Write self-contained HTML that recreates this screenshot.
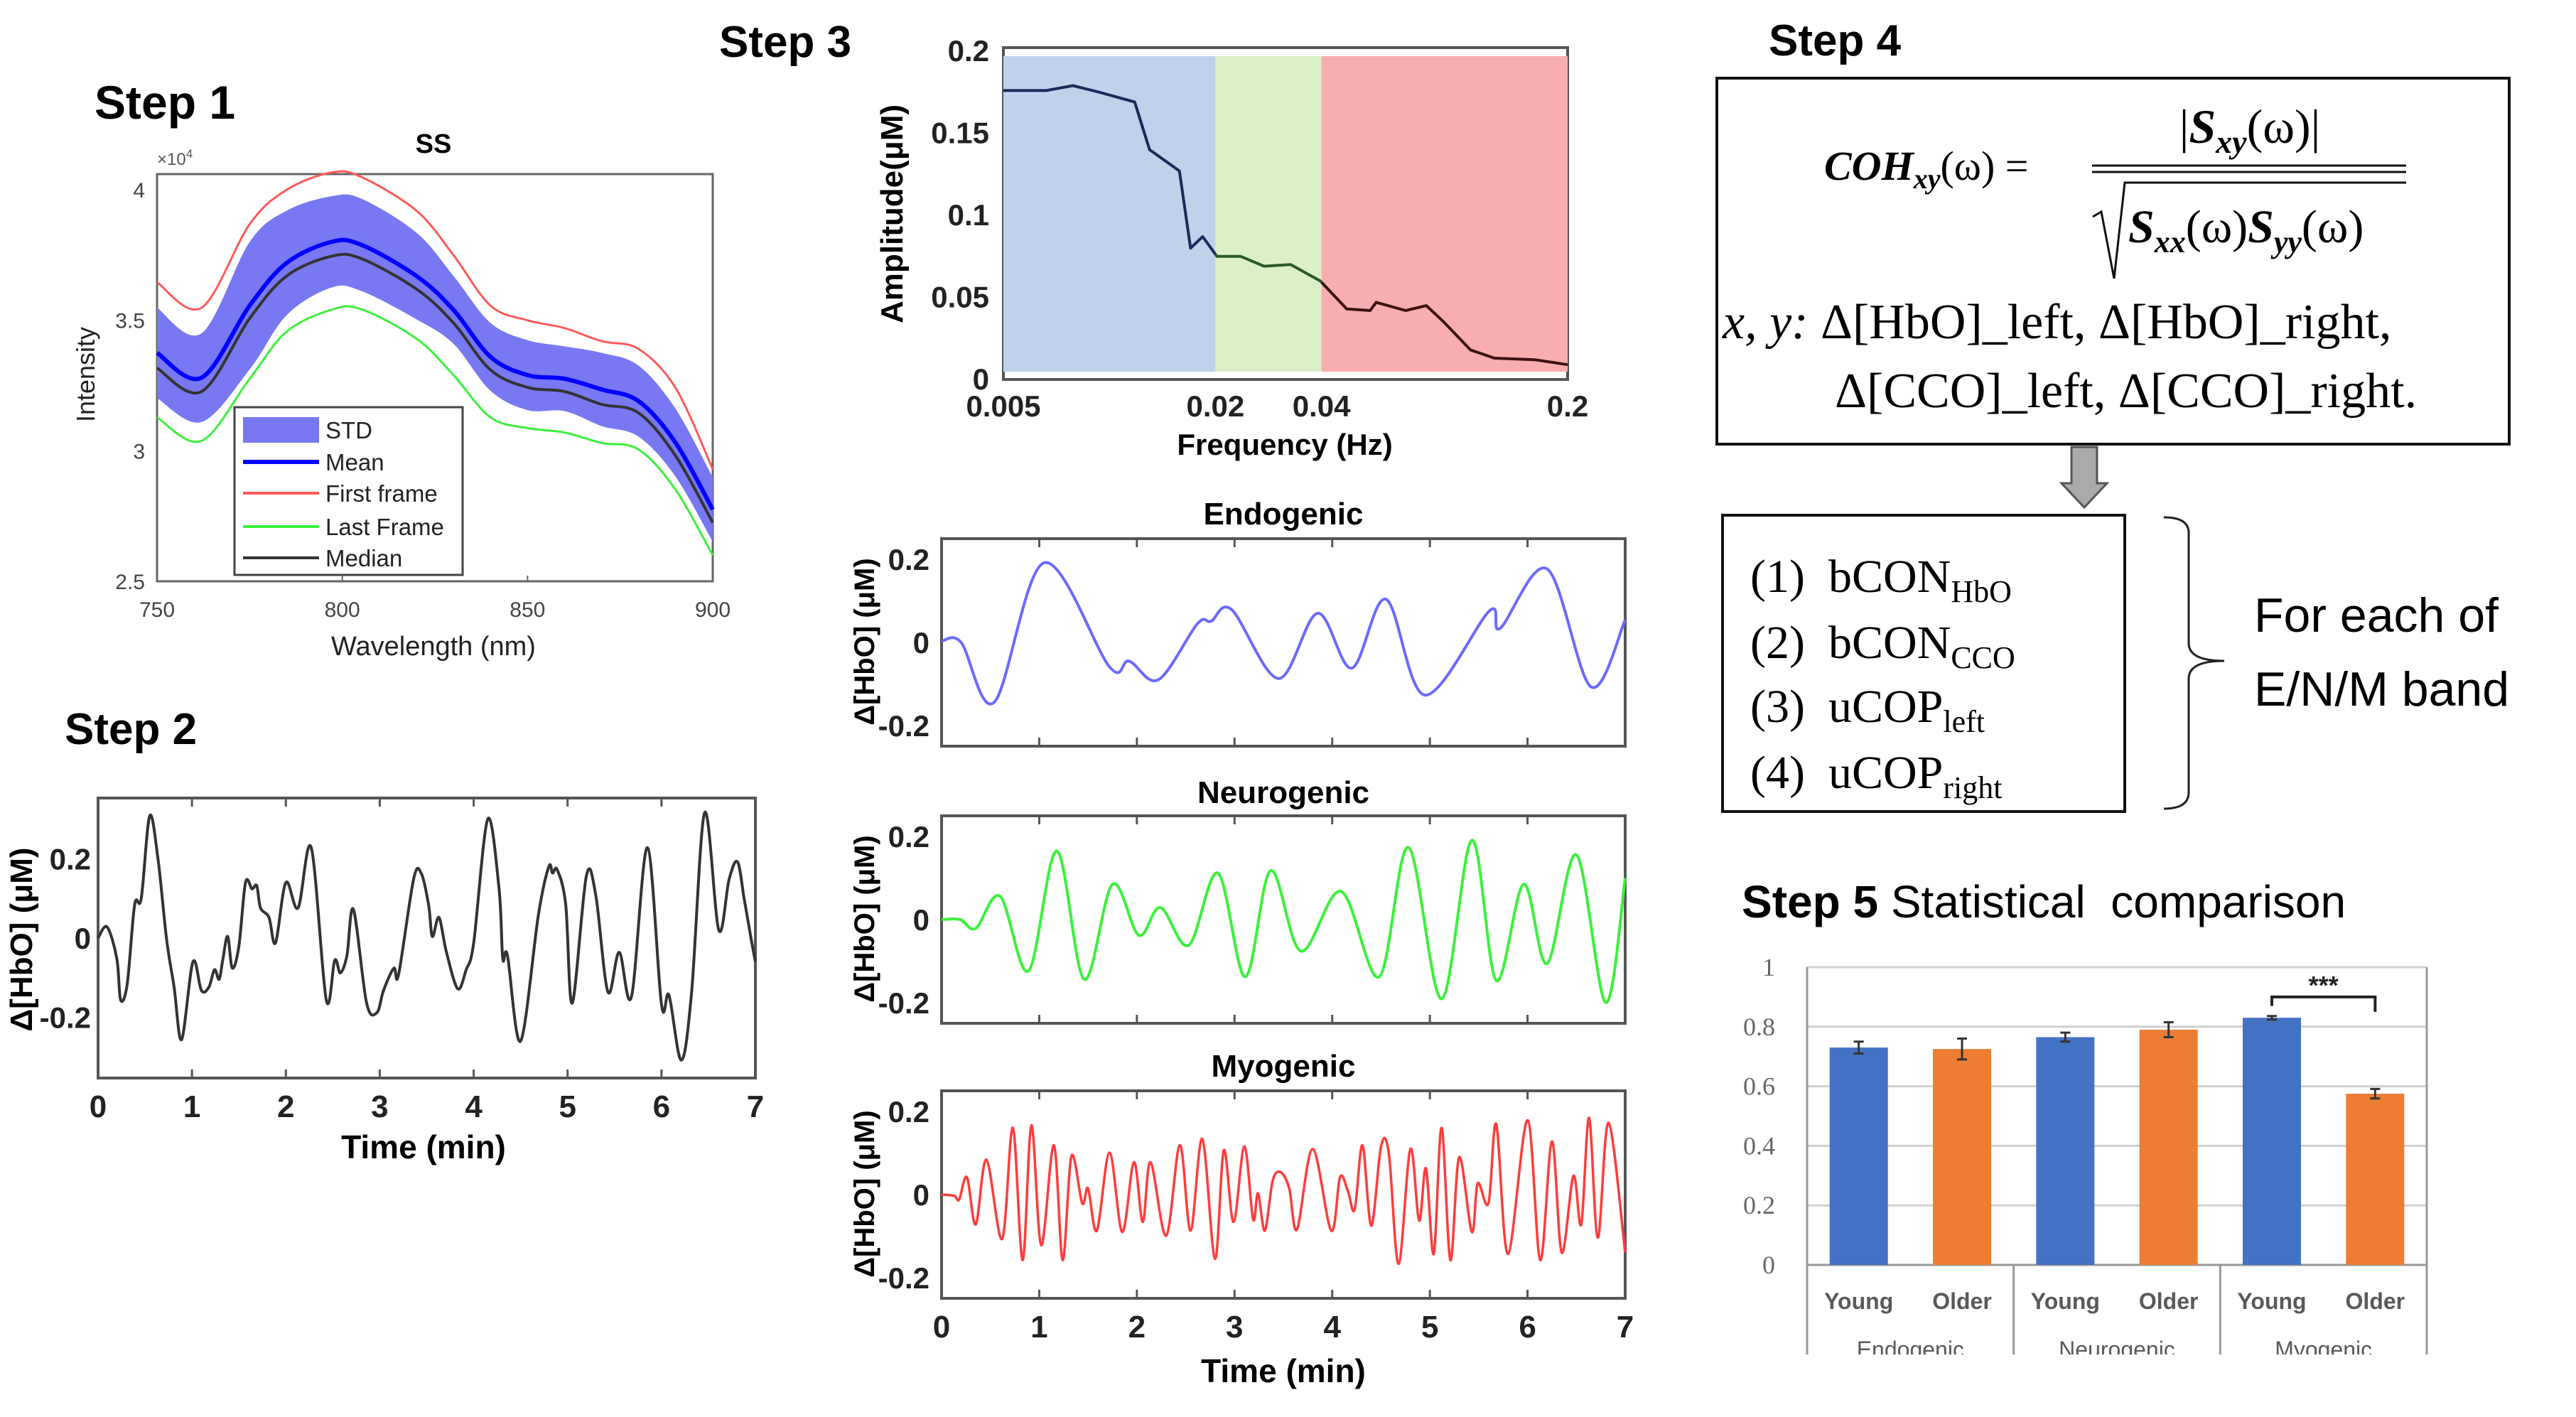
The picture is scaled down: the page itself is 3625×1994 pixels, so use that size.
<!DOCTYPE html>
<html><head><meta charset="utf-8"><style>
html,body{margin:0;padding:0;background:#fff;width:3625px;height:1994px;overflow:hidden}
svg{display:block}
.mb{font-family:"Liberation Sans Narrow","Liberation Sans",sans-serif;font-weight:bold}
.sr{font-family:"Liberation Serif",serif}
</style></head><body>
<svg id="root" width="3625" height="1994" viewBox="0 0 3625 1994" xmlns="http://www.w3.org/2000/svg">
<rect x="0" y="0" width="3625" height="1994" fill="#fff"/>
<text x="133" y="167" font-family="Liberation Sans" font-weight="bold" font-size="66">Step 1</text>
<text x="91" y="1047" font-family="Liberation Sans" font-weight="bold" font-size="62">Step 2</text>
<text x="1012" y="80" font-family="Liberation Sans" font-weight="bold" font-size="62">Step 3</text>
<text x="2489" y="78" font-family="Liberation Sans" font-weight="bold" font-size="62">Step 4</text>
<text x="2451" y="1291" font-size="64" font-family="Liberation Sans"><tspan font-weight="bold">Step 5</tspan> Statistical&#160; comparison</text>

<text x="610" y="215" text-anchor="middle" font-family="Liberation Sans" font-weight="bold" font-size="38">SS</text>
<text x="221" y="232" font-family="Liberation Sans" font-size="24" fill="#555">×10<tspan font-size="17" dy="-10">4</tspan></text>
<text x="610" y="922" text-anchor="middle" font-family="Liberation Sans" font-size="38" fill="#222">Wavelength (nm)</text>
<text transform="translate(133,527) rotate(-90)" text-anchor="middle" font-family="Liberation Sans" font-size="36" fill="#222">Intensity</text>

<text x="596" y="1630" text-anchor="middle" class="mb" font-size="46">Time (min)</text>
<text transform="translate(45,1322) rotate(-90)" text-anchor="middle" class="mb" font-size="44">Δ[HbO] (μM)</text>

<text x="1808" y="640" text-anchor="middle" font-family="Liberation Sans" font-weight="bold" font-size="42">Frequency (Hz)</text>
<text transform="translate(1270,301) rotate(-90)" text-anchor="middle" class="mb" font-size="44">Amplitude(μM)</text>
<text x="1806" y="738" text-anchor="middle" class="mb" font-size="44">Endogenic</text>
<text x="1806" y="1130" text-anchor="middle" class="mb" font-size="44">Neurogenic</text>
<text x="1806" y="1515" text-anchor="middle" class="mb" font-size="44">Myogenic</text>
<text transform="translate(1230,903) rotate(-90)" text-anchor="middle" class="mb" font-size="40">Δ[HbO] (μM)</text>
<text transform="translate(1230,1293) rotate(-90)" text-anchor="middle" class="mb" font-size="40">Δ[HbO] (μM)</text>
<text transform="translate(1230,1680) rotate(-90)" text-anchor="middle" class="mb" font-size="40">Δ[HbO] (μM)</text>
<text x="1806" y="1945" text-anchor="middle" class="mb" font-size="46">Time (min)</text>

<rect x="2416" y="110" width="1115" height="515" fill="none" stroke="#111" stroke-width="4"/>
<text x="2567" y="253" class="sr" font-size="58" font-weight="bold" font-style="italic">COH<tspan font-size="40" dy="12">xy</tspan><tspan dy="-12" font-weight="normal" font-style="normal">(ω) =</tspan></text>
<text x="3166" y="201" text-anchor="middle" class="sr" font-size="68"><tspan font-weight="normal">|</tspan><tspan font-weight="bold" font-style="italic">S</tspan><tspan font-weight="bold" font-style="italic" font-size="46" dy="14">xy</tspan><tspan dy="-14">(ω)|</tspan></text>
<line x1="2944" y1="233" x2="3386" y2="233" stroke="#111" stroke-width="3"/>
<line x1="2944" y1="242" x2="3386" y2="242" stroke="#111" stroke-width="3"/>
<polyline points="2945,305 2957,298 2975,392 2990,257 3386,257" fill="none" stroke="#111" stroke-width="3"/>
<text x="2995" y="341" class="sr" font-size="66"><tspan font-weight="bold" font-style="italic">S</tspan><tspan font-weight="bold" font-style="italic" font-size="44" dy="14">xx</tspan><tspan dy="-14">(ω)</tspan><tspan font-weight="bold" font-style="italic">S</tspan><tspan font-weight="bold" font-style="italic" font-size="44" dy="14">yy</tspan><tspan dy="-14">(ω)</tspan></text>
<text x="2424" y="476" class="sr" font-size="70"><tspan font-style="italic">x, y:</tspan> Δ[HbO]_left, Δ[HbO]_right,</text>
<text x="2582" y="573" class="sr" font-size="70">Δ[CCO]_left, Δ[CCO]_right.</text>
<polygon points="2915,629 2951,629 2951,680 2965,680 2933,714 2901,680 2915,680" fill="#aaa" stroke="#555" stroke-width="3"/>
<rect x="2424" y="725" width="566" height="417" fill="none" stroke="#111" stroke-width="4"/>
<text x="2463" y="833" class="sr" font-size="66">(1)&#160; bCON<tspan font-size="44" dy="14">HbO</tspan></text>
<text x="2463" y="926" class="sr" font-size="66">(2)&#160; bCON<tspan font-size="44" dy="14">CCO</tspan></text>
<text x="2463" y="1016" class="sr" font-size="66">(3)&#160; uCOP<tspan font-size="44" dy="14">left</tspan></text>
<text x="2463" y="1109" class="sr" font-size="66">(4)&#160; uCOP<tspan font-size="44" dy="14">right</tspan></text>
<path d="M3045,728 Q3080,728 3080,750 L3080,905 Q3080,930 3130,930 Q3080,930 3080,955 L3080,1115 Q3080,1138 3045,1138" fill="none" stroke="#222" stroke-width="3"/>
<text x="3172" y="889" font-family="Liberation Sans" font-size="68">For each of</text>
<text x="3172" y="993" font-family="Liberation Sans" font-size="68">E/N/M band</text>

<g id="charts"></g>
</svg>
<script>
const wl = [750,762,775,785,797,805,820,830,840,850,860,870,880,890,900];
const firstFrame = [3.646,3.548,3.868,4.0,4.066,4.05,3.92,3.75,3.556,3.50,3.47,3.42,3.39,3.24,2.93];
const meanSpec = [3.375,3.28,3.556,3.72,3.80,3.79,3.67,3.54,3.36,3.29,3.276,3.235,3.19,3.03,2.775];
const medianSpec = [3.317,3.227,3.507,3.67,3.745,3.737,3.62,3.49,3.31,3.243,3.227,3.178,3.145,2.98,2.725];
const lastFrame = [3.128,3.038,3.276,3.457,3.54,3.543,3.43,3.29,3.128,3.087,3.07,3.03,3.005,2.85,2.60];
const stdUpper = [3.548,3.45,3.80,3.92,3.975,3.967,3.836,3.67,3.49,3.424,3.40,3.375,3.326,3.16,2.898];
const step1XTicks = [750,800,850,900];
const step1YTicks = [2.5,3,3.5,4];
const legendLabels = ['STD','Mean','First frame','Last Frame','Median'];
const rawT = [0,.096,.2,.24,.31,.39,.46,.55,.64,.73,.81,.89,1.01,1.1,1.18,1.24,1.29,1.33,1.38,1.43,1.5,1.57,1.64,1.69,1.73,1.82,1.89,2.0,2.13,2.27,2.43,2.52,2.58,2.65,2.72,2.86,2.97,3.04,3.15,3.2,3.36,3.44,3.52,3.56,3.63,3.71,3.83,3.92,4.0,4.15,4.27,4.31,4.36,4.5,4.69,4.8,4.84,4.89,4.98,5.05,5.2,5.3,5.43,5.55,5.68,5.85,6.0,6.08,6.21,6.32,6.46,6.61,6.72,6.81,6.88,6.95,7.0];
const rawV = [0,.028,-.052,-.156,-.116,.084,.1,.308,.196,-.004,-.124,-.256,-.06,-.132,-.124,-.08,-.104,-.052,.004,-.076,-.02,.14,.124,.132,.076,.052,-.012,.14,.076,.228,-.156,-.056,-.088,-.044,.072,-.164,-.188,-.132,-.076,-.092,.148,.164,.084,.004,.052,-.036,-.128,-.08,-.012,.3,.124,-.052,-.044,-.26,.06,.18,.164,.172,.084,-.164,.156,.108,-.136,-.036,-.148,.228,-.168,-.144,-.308,-.14,.316,.02,.148,.192,.1,.004,-.06];
const timeTicks = [0,1,2,3,4,5,6,7];
const hboTicks = [-0.2,0,0.2];
const freq = [0.005,0.00662,0.00788,0.00937,0.0118,0.0130,0.0158,0.0170,0.0184,0.0202,0.0236,0.0275,0.0327,0.0397,0.0472,0.0550,0.0572,0.0693,0.0794,0.089,0.106,0.124,0.162,0.2];
const amp = [0.176,0.176,0.179,0.175,0.169,0.140,0.127,0.080,0.087,0.075,0.075,0.069,0.070,0.060,0.043,0.042,0.047,0.042,0.045,0.035,0.018,0.013,0.012,0.009];
const freqTicks = [0.005,0.02,0.04,0.2];
const freqTickLabels = ['0.005','0.02','0.04','0.2'];
const ampTicks = [0,0.05,0.1,0.15,0.2];
const ampTickLabels = ['0','0.05','0.1','0.15','0.2'];
const bandEdges = [0.005,0.02,0.04,0.2];
const endoT = [0,.2,.54,1.05,1.72,1.92,2.22,2.62,2.76,2.97,3.45,3.85,4.2,4.55,4.95,5.61,5.72,6.2,6.65,7.0];
const endoV = [.003,0,-.144,.192,-.059,-.045,-.09,.045,.051,.079,-.087,.07,-.062,.104,-.127,.076,.034,.177,-.107,.054];
const neuroT = [0,.19,.35,.6,.89,1.18,1.46,1.75,2.02,2.24,2.53,2.83,3.11,3.37,3.68,4.09,4.48,4.78,5.12,5.43,5.68,5.96,6.2,6.5,6.8,7.0];
const neuroV = [0,0,-.021,.056,-.124,.165,-.144,.085,-.038,.029,-.062,.112,-.138,.118,-.076,.068,-.138,.174,-.191,.191,-.147,.085,-.106,.156,-.2,.1];
const myoT = [0,.13,.18,.26,.35,.46,.62,.73,.83,.92,1.02,1.15,1.24,1.33,1.44,1.5,1.59,1.72,1.85,1.97,2.06,2.14,2.3,2.44,2.55,2.67,2.8,2.89,2.99,3.1,3.19,3.24,3.31,3.39,3.47,3.56,3.64,3.8,3.99,4.08,4.16,4.23,4.31,4.4,4.5,4.58,4.68,4.8,4.89,4.96,5.04,5.12,5.21,5.3,5.43,5.49,5.6,5.68,5.8,6.0,6.13,6.25,6.35,6.47,6.55,6.63,6.72,6.83,7.0];
const myoV = [0,-.003,-.012,.042,-.072,.084,-.107,.161,-.158,.167,-.122,.119,-.158,.093,-.021,.015,-.087,.101,-.09,.078,-.066,.078,-.099,.119,-.087,.134,-.155,.107,-.066,.116,-.06,.003,-.087,.033,.054,.015,-.084,.11,-.087,.042,.009,-.036,.119,-.075,.116,.099,-.167,.11,-.063,.063,-.143,.161,-.158,.09,-.09,.027,-.021,.17,-.143,.179,-.158,.128,-.14,.045,-.072,.185,-.104,.173,-.14];
const groupNames = ['Endogenic','Neurogenic','Myogenic'];
const ageNames = ['Young','Older'];
const barValues = [0.73,0.725,0.765,0.79,0.83,0.575];
const barErrors = [0.02,0.035,0.015,0.025,0.006,0.016];
const barTicks = [0,0.2,0.4,0.6,0.8,1];

const NS='http://www.w3.org/2000/svg';
const root=document.getElementById('charts');
function mk(tag,attrs,parent){const e=document.createElementNS(NS,tag);for(const k in attrs)e.setAttribute(k,attrs[k]);(parent||root).appendChild(e);return e;}
function smooth(pts){let d='M'+pts[0][0].toFixed(1)+','+pts[0][1].toFixed(1);for(let i=0;i<pts.length-1;i++){const p0=pts[i-1]||pts[i],p1=pts[i],p2=pts[i+1],p3=pts[i+2]||p2;const c1=[p1[0]+(p2[0]-p0[0])/6,p1[1]+(p2[1]-p0[1])/6],c2=[p2[0]-(p3[0]-p1[0])/6,p2[1]-(p3[1]-p1[1])/6];d+=' C'+c1[0].toFixed(1)+','+c1[1].toFixed(1)+' '+c2[0].toFixed(1)+','+c2[1].toFixed(1)+' '+p2[0].toFixed(1)+','+p2[1].toFixed(1);}return d;}
function poly(pts){return 'M'+pts.map(p=>p[0].toFixed(1)+','+p[1].toFixed(1)).join(' L');}

(function(){
const X0=221,X1=1003,Y0=818,YT=245;
const xs=w=>X0+(w-750)/150*(X1-X0);
const ys=v=>Y0-(v-2.5)*367.3;
const box=mk('rect',{x:X0,y:YT,width:X1-X0,height:Y0-YT,fill:'#fff',stroke:'#666','stroke-width':3});


const lower=meanSpec.map((m,i)=>2*m-stdUpper[i]);
const up=wl.map((w,i)=>[xs(w),ys(stdUpper[i])]);
const lo=wl.map((w,i)=>[xs(w),ys(lower[i])]).reverse();
const band=mk('path',{d:smooth(up)+' L'+lo[0][0]+','+lo[0][1]+' '+smooth(lo).slice(1)+' Z',fill:'#7878f2',stroke:'none'});


const series=[[firstFrame,'#ff5a5a',3,'first-frame-line'],[lastFrame,'#3cf03c',3,'last-frame-line'],[meanSpec,'#0000ff',6,'mean-line'],[medianSpec,'#333',4,'median-line']];
series.forEach(s=>{const p=mk('path',{d:smooth(wl.map((w,i)=>[xs(w),ys(s[0][i])])),fill:'none',stroke:s[1],'stroke-width':s[2]});

});
step1XTicks.forEach(t=>{const tx=mk('text',{x:xs(t),y:868,'text-anchor':'middle','font-family':'Liberation Sans','font-size':30,fill:'#444'});tx.textContent=t;


const tk=mk('line',{x1:xs(t),y1:Y0,x2:xs(t),y2:Y0-8,stroke:'#666','stroke-width':2});

});
step1YTicks.forEach(t=>{const tx=mk('text',{x:204,y:ys(t)+11,'text-anchor':'end','font-family':'Liberation Sans','font-size':30,fill:'#444'});tx.textContent=t;

});
const lg=mk('rect',{x:330,y:573,width:321,height:236,fill:'#fff',stroke:'#444','stroke-width':3});


const ly=[605,650,694,741,785],lc=['#7878f2','#0000ff','#ff5a5a','#3cf03c','#333'];
legendLabels.forEach((l,i)=>{let m;
if(i===0){m=mk('rect',{x:342,y:ly[i]-18,width:107,height:36,fill:lc[0]});}
else{m=mk('line',{x1:342,y1:ly[i],x2:449,y2:ly[i],stroke:lc[i],'stroke-width':i===1?6:4});}


const tx=mk('text',{x:458,y:ly[i]+12,'font-family':'Liberation Sans','font-size':33,fill:'#222'});tx.textContent=l;

});
})();

function timeAxes(name,X0,X1,YT,YB,ylim,tickLabels,color,ts,vs,width,labelsX,curve){
const xs=t=>X0+t/7*(X1-X0);
const ys=v=>(YT+YB)/2-v/ylim*(YB-YT)/2;
const b=mk('rect',{x:X0,y:YT,width:X1-X0,height:YB-YT,fill:'#fff',stroke:'#555','stroke-width':4});


timeTicks.forEach(t=>{[[YB,YB-12],[YT,YT+12]].forEach(a=>{const l=mk('line',{x1:xs(t),y1:a[0],x2:xs(t),y2:a[1],stroke:'#555','stroke-width':3});

});
if(tickLabels){const tx=mk('text',{x:xs(t),y:YB+55,'text-anchor':'middle',class:'mb','font-size':44,fill:'#222'});tx.textContent=t;

}});
hboTicks.forEach(t=>{const tx=mk('text',{x:labelsX,y:ys(t)+15,'text-anchor':'end',class:'mb','font-size':42,fill:'#222'});tx.textContent=t;

});
const pts=ts.map((t,i)=>[xs(t),ys(vs[i])]);
const p=mk('path',{d:curve?smooth(pts):poly(pts),fill:'none',stroke:color,'stroke-width':width,'stroke-linejoin':'round'});


}
timeAxes('step2',138,1063,1123,1517,0.353,true,'#333',rawT,rawV,4,128,true);
timeAxes('endogenic',1325,2287,758,1050,0.25,false,'#6a6aff',endoT,endoV,4,1308,true);
timeAxes('neurogenic',1325,2287,1148,1440,0.25,false,'#3cf03c',neuroT,neuroV,4,1308,true);
timeAxes('myogenic',1325,2287,1535,1827,0.25,true,'#ff3c3c',myoT,myoV,3.5,1308,true);

(function(){
const X0=1412,X1=2206,YT=67,YB=534;
const xs=f=>X0+Math.log(f/0.005)/Math.log(40)*(X1-X0);
const ys=v=>YB-v/0.2*(YB-72);
const b=mk('rect',{x:X0,y:YT,width:X1-X0,height:YB-YT,fill:'#fff',stroke:'#555','stroke-width':4});


const bc=['#bed3ea','#dcf0c8','#f8aeae'],bn=['endogenic-band','neurogenic-band','myogenic-band'];
for(let i=0;i<3;i++){const r=mk('rect',{x:xs(bandEdges[i]),y:79,width:xs(bandEdges[i+1])-xs(bandEdges[i]),height:444,fill:bc[i]});

}
const lc=['#1a2a5a','#2a5a2a','#3a1212'];
for(let i=0;i<3;i++){const pts=[];freq.forEach((f,j)=>{if(f>=bandEdges[i]-1e-9&&f<=bandEdges[i+1]+1e-9)pts.push([xs(f),ys(amp[j])]);});
if(i>0){const k=freq.findIndex(f=>f>=bandEdges[i]);if(freq[k]>bandEdges[i]+1e-9&&k>0){const a=freq[k-1],c=freq[k];const fr=(Math.log(bandEdges[i])-Math.log(a))/(Math.log(c)-Math.log(a));pts.unshift([xs(bandEdges[i]),ys(amp[k-1]+(amp[k]-amp[k-1])*fr)]);}}
if(i<2){const k=freq.findIndex(f=>f>bandEdges[i+1]);const a=freq[k-1],c=freq[k];const fr=(Math.log(bandEdges[i+1])-Math.log(a))/(Math.log(c)-Math.log(a));pts.push([xs(bandEdges[i+1]),ys(amp[k-1]+(amp[k]-amp[k-1])*fr)]);}
const p=mk('path',{d:poly(pts),fill:'none',stroke:lc[i],'stroke-width':4,'stroke-linejoin':'round'});

}
freqTicks.forEach((f,i)=>{const tx=mk('text',{x:xs(f),y:586,'text-anchor':'middle',class:'mb','font-size':42,fill:'#222'});tx.textContent=freqTickLabels[i];

});
ampTicks.forEach((v,i)=>{const tx=mk('text',{x:1392,y:ys(v)+14,'text-anchor':'end',class:'mb','font-size':42,fill:'#222'});tx.textContent=ampTickLabels[i];

});
})();

(function(){
const X0=2543,X1=3415,YT=1361,YB=1780;
const ys=v=>YB-v*(YB-YT);
const step=(X1-X0)/6;
const xc=i=>X0+step*(i+0.5);
const clip=mk('clipPath',{id:'barclip'});
mk('rect',{x:2380,y:1300,width:1245,height:606},clip);
const g=mk('g',{'clip-path':'url(#barclip)'});


barTicks.forEach(t=>{const l=mk('line',{x1:X0,y1:ys(t),x2:X1,y2:ys(t),stroke:'#d0d0d0','stroke-width':3},g);


const tx=mk('text',{x:2498,y:ys(t)+12,'text-anchor':'end',class:'sr','font-size':36,fill:'#666'},g);tx.textContent=t;

});
const frame=mk('path',{d:`M${X0},${YT} L${X0},${YB+126} M${X1},${YT} L${X1},${YB+126} M${X0},${YB} L${X1},${YB}`,stroke:'#999','stroke-width':3,fill:'none'},g);


[1,2].forEach(k=>{const l=mk('line',{x1:X0+step*2*k,y1:YB,x2:X0+step*2*k,y2:YB+126,stroke:'#999','stroke-width':3},g);

});
barValues.forEach((v,i)=>{const r=mk('rect',{x:xc(i)-41,y:ys(v),width:82,height:YB-ys(v),fill:i%2?'#ed7d31':'#4472c4'},g);


const e=barErrors[i];
const eb=mk('path',{d:`M${xc(i)},${ys(v+e)} L${xc(i)},${ys(v-e)} M${xc(i)-7},${ys(v+e)} L${xc(i)+7},${ys(v+e)} M${xc(i)-7},${ys(v-e)} L${xc(i)+7},${ys(v-e)}`,stroke:'#333','stroke-width':3,fill:'none'},g);


const tx=mk('text',{x:xc(i),y:YB+62,'text-anchor':'middle','font-family':'Liberation Sans','font-weight':'bold','font-size':32,fill:'#595959'},g);tx.textContent=ageNames[i%2];

});
groupNames.forEach((n,k)=>{const tx=mk('text',{x:X0+step*(2*k+1),y:YB+130,'text-anchor':'middle','font-family':'Liberation Sans','font-size':32,fill:'#595959'},g);tx.textContent=n;

});
const br=mk('path',{d:`M${xc(4)},${ys(barValues[4]+0.04)} L${xc(4)},${ys(0.9)} L${xc(5)},${ys(0.9)} L${xc(5)},${ys(0.85)}`,stroke:'#222','stroke-width':4,fill:'none'},g);


const st=mk('text',{x:(xc(4)+xc(5))/2,y:ys(0.9)-4,'text-anchor':'middle','font-family':'Liberation Sans','font-weight':'bold','font-size':36,fill:'#222'},g);st.textContent='***';


})();
</script>
</body></html>
